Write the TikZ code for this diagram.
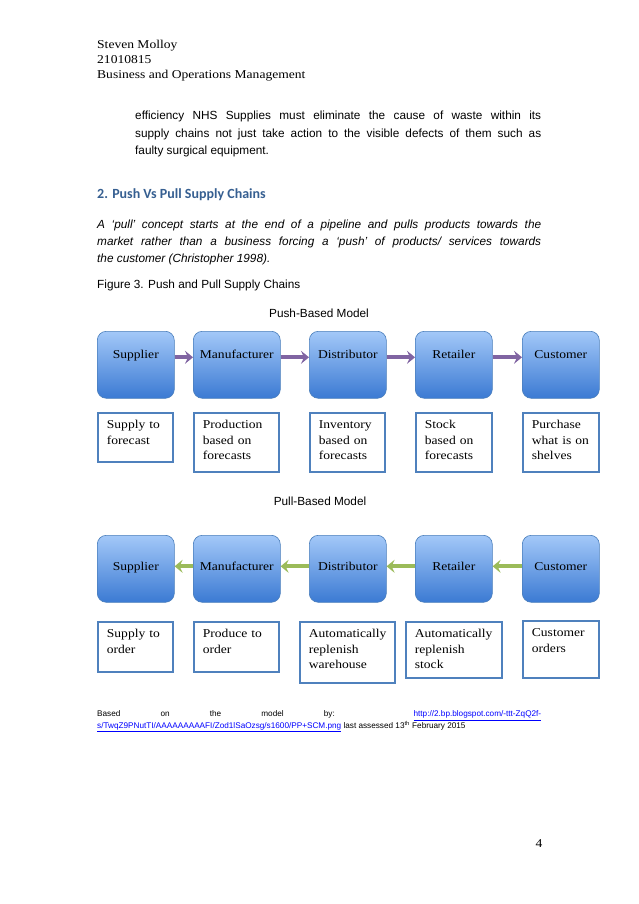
\documentclass[tikz,border=0pt]{standalone}
\usepackage{fontspec}
\setmainfont{Liberation Sans}
\newfontfamily\cambria[FakeStretch=1.13]{Liberation Serif}
\newfontfamily\calibri{Carlito}
\usetikzlibrary{positioning, arrows.meta}

\definecolor{boxtop}{HTML}{A3C8F8}
\definecolor{boxbottom}{HTML}{3B7AD3}
\definecolor{boxline}{HTML}{4A7EBB}
\definecolor{infoline}{HTML}{4F81BD}
\definecolor{pushcol}{HTML}{8064A2}
\definecolor{pullcol}{HTML}{9BBB59}
\definecolor{headcol}{HTML}{365F91}
\definecolor{linkcol}{HTML}{0000FF}

\newcommand\serifhead{\cambria\fontsize{12}{15}\selectfont}
\newcommand\bodytext{\fontsize{11.8}{17.3}\selectfont}
\newcommand\srclink[1]{\textcolor{linkcol}{\underline{#1}}}

\tikzset{
  stage/.style={draw=boxline, line width=0.6pt, rounded corners=9pt,
    top color=boxtop, bottom color=boxbottom, anchor=north west,
    minimum height=67pt, inner sep=0pt, text height=8pt, text depth=#1,
    font=\cambria\fontsize{12}{14}\selectfont},
  info/.style={draw=infoline, line width=1.8pt, anchor=north west, align=left,
    inner xsep=9pt, inner ysep=5pt, text height=11pt, text depth=#1,
    font=\cambria\fontsize{12}{15.5}\selectfont},
  pusharrow/.style={draw=pushcol, line width=4pt,
    -{Stealth[length=8pt,width=13pt,inset=3pt]}},
  pullarrow/.style={draw=pullcol, line width=4pt,
    -{Stealth[length=8pt,width=13pt,inset=3pt]}},
}

\begin{document}
\begin{tikzpicture}[x=1pt,y=-1pt]
    \fill[white] (0,0) rectangle (638,904);
    \useasboundingbox (0,0) rectangle (638,904);

    % page header
    \node[anchor=base west,inner sep=0pt,font=\serifhead] (author) at (97,49) {Steven Molloy};
    \node[anchor=base west,inner sep=0pt,font=\serifhead] (idnum)  at (97,64) {21010815};
    \node[anchor=base west,inner sep=0pt,font=\serifhead] (course) at (97,79) {Business and Operations Management};

    \node[anchor=north west,inner sep=0pt,text width=406pt,align=justify,font=\bodytext] (para1) at (135,111)
      {efficiency NHS Supplies must eliminate the cause of waste within its\linebreak
       supply chains not just take action to the visible defects of them such as\linebreak
       faulty surgical equipment.};

    \node[anchor=base west,inner sep=0pt,text=headcol,font=\calibri\bfseries\fontsize{14}{16}\selectfont] (heading) at (97,198)
      {2. Push Vs Pull Supply Chains};

    \node[anchor=north west,inner sep=0pt,text width=444pt,align=justify,font=\bodytext\itshape] (para2) at (97,219.5)
      {A ‘pull’ concept starts at the end of a pipeline and pulls products towards the\linebreak
       market rather than a business forcing a ‘push’ of products/ services towards\linebreak
       the customer (Christopher 1998).};

    \node[anchor=base west,inner sep=0pt,font=\bodytext] (figcap) at (97,288) {Figure 3. Push and Pull Supply Chains};

    % push model
    \node[anchor=base,inner sep=0pt,font=\bodytext] (pushtitle) at (319,317) {Push-Based Model};

    \node[stage=20pt,minimum width=77pt] (sup1) at (97,331)  {Supplier};
    \node[stage=20pt,minimum width=87pt] (man1) at (193,331) {Manufacturer};
    \node[stage=20pt,minimum width=77pt] (dis1) at (309,331) {Distributor};
    \node[stage=20pt,minimum width=77pt] (ret1) at (415,331) {Retailer};
    \node[stage=20pt,minimum width=77pt] (cus1) at (522,331) {Customer};

    \draw[pusharrow] ([yshift=7.5pt]sup1.east) -- ([yshift=7.5pt]man1.west);
    \draw[pusharrow] ([yshift=7.5pt]man1.east) -- ([yshift=7.5pt]dis1.west);
    \draw[pusharrow] ([yshift=7.5pt]dis1.east) -- ([yshift=7.5pt]ret1.west);
    \draw[pusharrow] ([yshift=7.5pt]ret1.east) -- ([yshift=7.5pt]cus1.west);

    \node[info=28pt,text width=57.2pt] (supinfo1) at (97,412)  {Supply to\\forecast};
    \node[info=38pt,text width=67.2pt] (maninfo1) at (193,412) {Production\\based on\\forecasts};
    \node[info=38pt,text width=57.2pt] (disinfo1) at (309,412) {Inventory\\based on\\forecasts};
    \node[info=38pt,text width=58.2pt] (retinfo1) at (415,412) {Stock\\based on\\forecasts};
    \node[info=38pt,text width=58.2pt] (cusinfo1) at (522,412) {Purchase\\what is on\\shelves};

    % pull model
    \node[anchor=base,inner sep=0pt,font=\bodytext] (pulltitle) at (320,505) {Pull-Based Model};

    \node[stage=5pt,minimum width=77pt] (sup2) at (97,535)  {Supplier};
    \node[stage=5pt,minimum width=87pt] (man2) at (193,535) {Manufacturer};
    \node[stage=5pt,minimum width=77pt] (dis2) at (309,535) {Distributor};
    \node[stage=5pt,minimum width=77pt] (ret2) at (415,535) {Retailer};
    \node[stage=5pt,minimum width=77pt] (cus2) at (522,535) {Customer};

    \draw[pullarrow] ([yshift=2.5pt]cus2.west) -- ([yshift=2.5pt]ret2.east);
    \draw[pullarrow] ([yshift=2.5pt]ret2.west) -- ([yshift=2.5pt]dis2.east);
    \draw[pullarrow] ([yshift=2.5pt]dis2.west) -- ([yshift=2.5pt]man2.east);
    \draw[pullarrow] ([yshift=2.5pt]man2.west) -- ([yshift=2.5pt]sup2.east);

    \node[info=29pt,text width=57.2pt] (supinfo2) at (97,621)  {Supply to\\order};
    \node[info=29pt,text width=67.2pt] (maninfo2) at (193,621) {Produce to\\order};
    \node[info=40pt,text width=77.2pt] (disinfo2) at (299,621) {Automatically\\replenish\\warehouse};
    \node[info=35pt,text width=78.2pt] (retinfo2) at (405,621) {Automatically\\replenish\\stock};
    \node[info=36pt,text width=58.2pt] (cusinfo2) at (522,620) {Customer\\orders};

    % source and page number
    \node[anchor=north west,inner sep=0pt,text width=444pt,align=justify,font=\fontsize{8.2}{7.4}\selectfont] (source) at (97,710.5)
      {Based on the model by: \srclink{http://2.bp.blogspot.com/-ttt-ZqQ2f-}\linebreak
       \srclink{s/TwqZ9PNutTI/AAAAAAAAAFI/Zod1lSaOzsg/s1600/PP+SCM.png} last assessed 13\textsuperscript{th} February 2015};

    \node[anchor=base,inner sep=0pt,font=\serifhead] (pagenum) at (539,847) {4};
\end{tikzpicture}
\end{document}
